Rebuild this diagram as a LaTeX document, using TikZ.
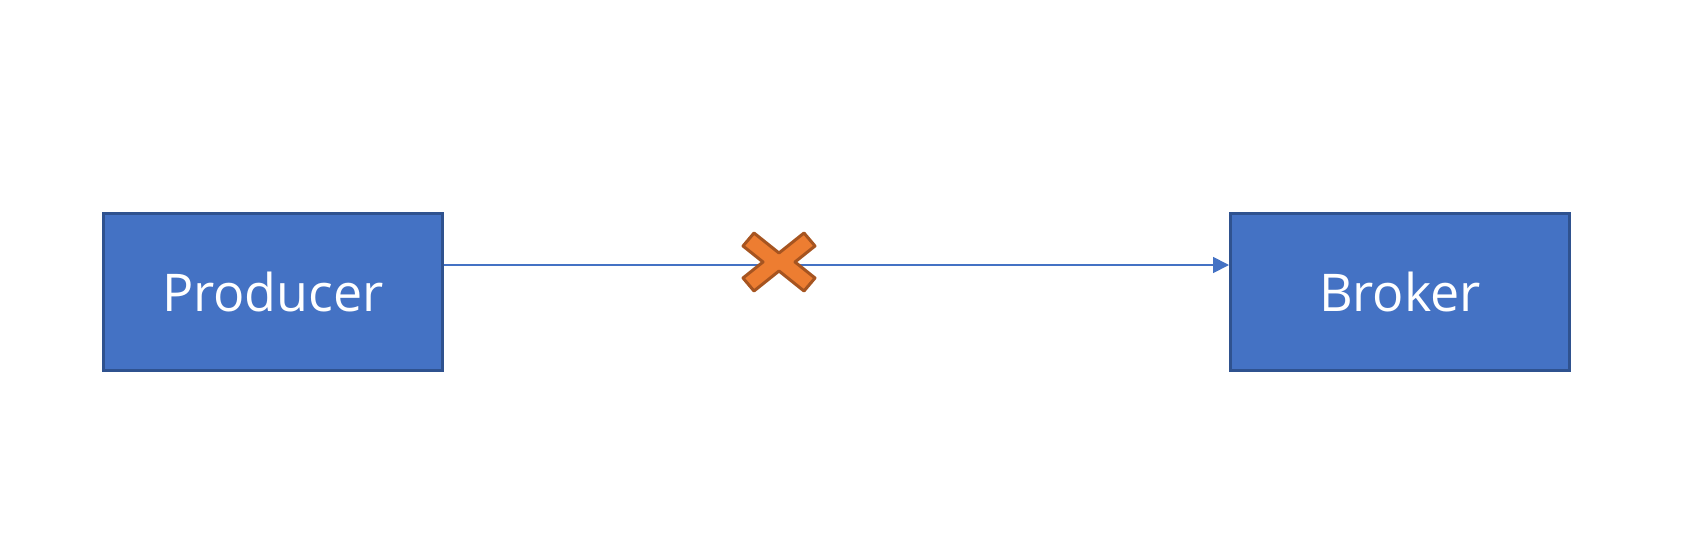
\documentclass[tikz,border=0pt]{standalone}
\usepackage{fontspec}
\setmainfont{Open Sans}
\usetikzlibrary{positioning,arrows.meta,calc}
\definecolor{boxblue}{HTML}{4472C4}
\definecolor{boxedge}{HTML}{2F528F}
\definecolor{crossorange}{HTML}{ED7D31}
\definecolor{crossedge}{HTML}{A65420}

\begin{document}
\begin{tikzpicture}[x=1pt, y=-1pt,
    block/.style={draw=boxedge, fill=boxblue, line width=3pt, minimum width=339pt,
      minimum height=157pt, text=white, font=\fontsize{52}{60}\selectfont}]
    \useasboundingbox (0,0) rectangle (1702,552);
    \node[block] (producer) at (273,292) {Producer};
    \node[block] (broker) at (1400,292) {Broker};
    \draw[boxblue, line width=1.8pt, -{Triangle[length=16pt, width=16pt]}]
      ([yshift=27pt]producer.east) -- ([yshift=27pt]broker.west);
    \coordinate (cross) at (779,262);
    \fill[crossorange, draw=crossedge, line width=3pt, line join=round, shift={(cross)}]
      (-25,-29) -- (0,-9) -- (25,-29) -- (36,-16) -- (16,0) -- (36,16) -- (25,29)
      -- (0,9) -- (-25,29) -- (-36,16) -- (-16,0) -- (-36,-16) -- cycle;
  \end{tikzpicture}
\end{document}
